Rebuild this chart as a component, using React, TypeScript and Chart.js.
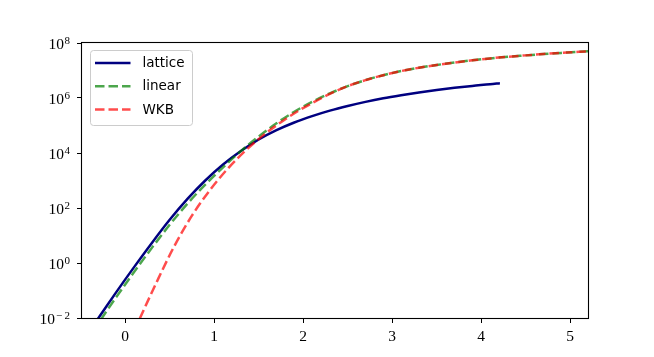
import React, { useEffect, useRef } from "react";
import { Chart, registerables } from "chart.js";

Chart.register(...registerables);

// x positions and log10 values
const latticeX = [-0.36, -0.3, -0.1, 0.1, 0.3, 0.5, 0.7, 0.9, 1.1, 1.3, 1.5, 1.7, 1.9, 2.1, 2.3, 2.5, 2.7, 2.9, 3.1, 3.3, 3.5, 3.7, 3.9, 4.1, 4.21];
const latticeExp = [-2.28, -2.0, -1.06, -0.15, 0.73, 1.57, 2.33, 3.0, 3.58, 4.07, 4.49, 4.83, 5.11, 5.34, 5.54, 5.71, 5.86, 5.99, 6.1, 6.2, 6.29, 6.37, 6.44, 6.5, 6.54];

const linearX = [-0.36, -0.3, -0.1, 0.1, 0.3, 0.5, 0.7, 0.9, 1.1, 1.3, 1.5, 1.7, 1.9, 2.1, 2.3, 2.5, 2.7, 2.9, 3.1, 3.3, 3.5, 3.7, 3.9, 4.1, 4.3, 4.5, 4.7, 4.9, 5.1, 5.3];
const linearExp = [-2.46, -2.18, -1.24, -0.33, 0.55, 1.39, 2.16, 2.85, 3.48, 4.07, 4.6, 5.08, 5.5, 5.86, 6.17, 6.43, 6.65, 6.83, 6.98, 7.1, 7.2, 7.29, 7.37, 7.44, 7.5, 7.55, 7.6, 7.64, 7.68, 7.71];

const wkbX = [0.1, 0.15, 0.35, 0.55, 0.75, 0.95, 1.15, 1.35, 1.55, 1.75, 1.95, 2.15, 2.3, 2.5, 2.7, 2.9, 3.1, 3.3, 3.5, 3.7, 3.9, 4.1, 4.3, 4.5, 4.7, 4.9, 5.1, 5.3];
const wkbExp = [-2.47, -2.12, -0.72, 0.6, 1.72, 2.64, 3.42, 4.08, 4.64, 5.12, 5.54, 5.9, 6.15, 6.43, 6.65, 6.83, 6.98, 7.1, 7.2, 7.29, 7.37, 7.44, 7.5, 7.55, 7.6, 7.64, 7.68, 7.71];

const seriesLabels = ["lattice", "linear", "WKB"];
const xTickValues = [0, 1, 2, 3, 4, 5];
const yTickExps = [-2, 0, 2, 4, 6, 8];
const xRange = [-0.485, 5.2];
const yRangeExp = [-2, 8];

const toPoints = (xs: number[], es: number[]) => xs.map((x, i) => ({ x, y: Math.pow(10, es[i]) }));

const COLORS = ["#000080", "rgba(0,128,0,0.7)", "rgba(255,0,0,0.7)"];
const DASHES: number[][] = [[], [9.5, 4], [9.5, 4]];
const SERIF = "'Liberation Serif', 'DejaVu Serif', serif";

const framePlugin = {
  id: "frame",
  afterDatasetsDraw(chart: any) {
    const { ctx, chartArea: a } = chart;
    ctx.save();
    ctx.strokeStyle = "#000";
    ctx.lineWidth = 1.1;
    ctx.strokeRect(Math.round(a.left) - 0.5, Math.round(a.top) - 0.5, Math.round(a.right - a.left) + 1, Math.round(a.bottom - a.top) + 1);
    ctx.restore();
  },
};

// y tick labels with real superscript exponents
const powerLabelPlugin = {
  id: "powerLabels",
  afterDraw(chart: any) {
    const { ctx, chartArea: a } = chart;
    const ys = chart.scales.y;
    ctx.save();
    ctx.fillStyle = "#000";
    ctx.textBaseline = "alphabetic";
    ctx.textAlign = "left";
    yTickExps.forEach((e) => {
      const py = ys.getPixelForValue(Math.pow(10, e));
      const right = a.left - 12;
      const neg = e < 0;
      const digits = String(Math.abs(e));
      ctx.font = `11px ${SERIF}`;
      const dW = ctx.measureText(digits).width;
      const minusW = neg ? 9 : 0;
      ctx.font = `15.5px ${SERIF}`;
      const baseW = ctx.measureText("10").width;
      const startX = right - dW - minusW - baseW - 0.5;
      ctx.fillText("10", startX, py + 6);
      const ex = startX + baseW + 0.5;
      if (neg) {
        ctx.font = `11px ${SERIF}`;
        ctx.fillText("\u2212", ex + 0.5, py + 0.5);
      }
      ctx.font = `11px ${SERIF}`;
      ctx.fillText(digits, ex + minusW, py + 0.5);
    });
    ctx.restore();
  },
};

const legendPlugin = {
  id: "innerLegend",
  afterDraw(chart: any) {
    const { ctx, chartArea: a } = chart;
    const bx = a.left + 8.5;
    const by = a.top + 7.5;
    const bw = 102;
    const bh = 75;
    ctx.save();
    ctx.beginPath();
    if (ctx.roundRect) ctx.roundRect(bx, by, bw, bh, 3);
    else ctx.rect(bx, by, bw, bh);
    ctx.fillStyle = "rgba(255,255,255,0.85)";
    ctx.fill();
    ctx.strokeStyle = "rgba(204,204,204,1)";
    ctx.lineWidth = 1;
    ctx.stroke();
    seriesLabels.forEach((lab, i) => {
      const y = by + 12.5 + i * 23.3;
      ctx.beginPath();
      ctx.setLineDash(DASHES[i]);
      ctx.lineDashOffset = 0;
      ctx.strokeStyle = COLORS[i];
      ctx.lineWidth = 2.5;
      ctx.moveTo(bx + 4.5, y);
      ctx.lineTo(bx + 40, y);
      ctx.stroke();
      ctx.setLineDash([]);
      ctx.fillStyle = "#000";
      ctx.font = "13.5px 'DejaVu Sans'";
      ctx.textBaseline = "middle";
      ctx.textAlign = "left";
      ctx.fillText(lab, bx + 52, y + 0.5);
    });
    ctx.restore();
  },
};

export default function App() {
  const ref = useRef<HTMLCanvasElement | null>(null);
  useEffect(() => {
    if (!ref.current) return;
    const datasets = [
      { label: seriesLabels[0], data: toPoints(latticeX, latticeExp), order: 3 },
      { label: seriesLabels[1], data: toPoints(linearX, linearExp), order: 2 },
      { label: seriesLabels[2], data: toPoints(wkbX, wkbExp), order: 1 },
    ].map((d, i) => ({
      ...d,
      borderColor: COLORS[i],
      backgroundColor: COLORS[i],
      borderWidth: 2.5,
      borderDash: DASHES[i],
      pointRadius: 0,
      fill: false,
      cubicInterpolationMode: "monotone" as const,
      clip: 0,
    }));
    const chart = new Chart(ref.current, {
      type: "line",
      data: { datasets },
      options: {
        animation: false,
        responsive: false,
        devicePixelRatio: 1,
        layout: { padding: { top: 43, right: 66, bottom: 0, left: 0 } },
        plugins: { legend: { display: false }, tooltip: { enabled: false } },
        scales: {
          x: {
            type: "linear",
            min: xRange[0],
            max: xRange[1],
            afterBuildTicks: (s: any) => {
              s.ticks = xTickValues.map((v) => ({ value: v }));
            },
            afterFit: (s: any) => {
              s.height = 39;
            },
            ticks: {
              color: "#000",
              padding: 5,
              maxRotation: 0,
              font: { family: SERIF, size: 15.5 },
              callback: (v: any) => String(v),
            },
            grid: { drawOnChartArea: false, drawTicks: true, tickLength: 5, color: "#000", lineWidth: 1 },
            border: { display: false },
          },
          y: {
            type: "logarithmic",
            min: Math.pow(10, yRangeExp[0]),
            max: Math.pow(10, yRangeExp[1]),
            afterBuildTicks: (s: any) => {
              s.ticks = yTickExps.map((e) => ({ value: Math.pow(10, e) }));
            },
            afterFit: (s: any) => {
              s.width = 82;
            },
            ticks: { display: false },
            grid: { drawOnChartArea: false, drawTicks: true, tickLength: 5, color: "#000", lineWidth: 1 },
            border: { display: false },
          },
        },
      },
      plugins: [framePlugin, powerLabelPlugin, legendPlugin],
    });
    return () => chart.destroy();
  }, []);
  return (
    <div style={{ position: "fixed", left: 0, top: 0, width: 654, height: 357, background: "#fff" }}>
      <canvas ref={ref} width={654} height={357} style={{ width: 654, height: 357, display: "block" }} />
    </div>
  );
}
